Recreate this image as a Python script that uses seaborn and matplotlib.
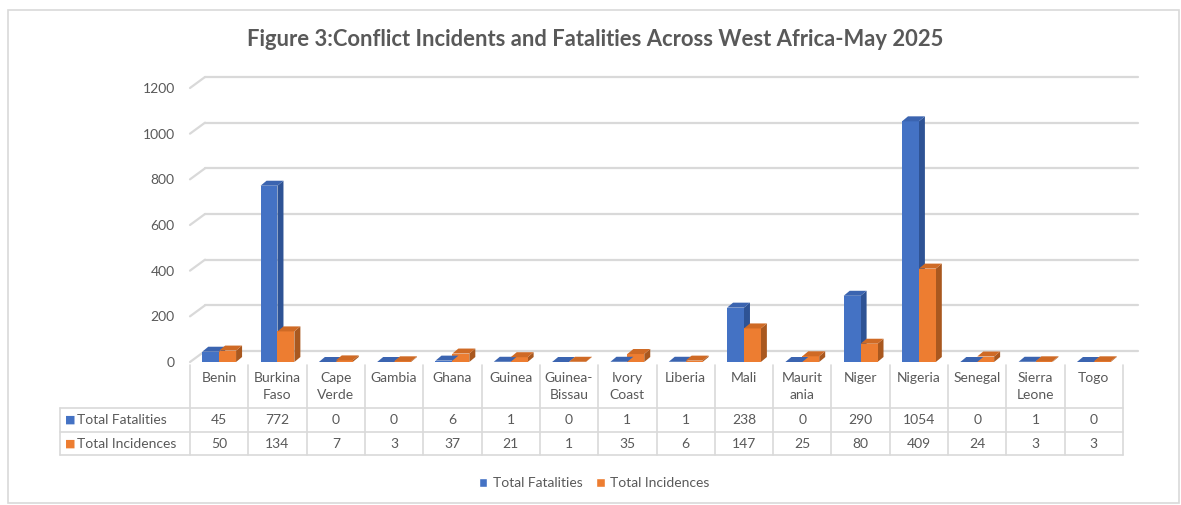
import matplotlib
matplotlib.use("Agg")
import matplotlib.pyplot as plt
import matplotlib.transforms as mtransforms
from matplotlib.patches import Polygon, Rectangle
import pandas as pd
import seaborn as sns

# data
countries = ["Benin", "Burkina Faso", "Cape Verde", "Gambia", "Ghana", "Guinea",
             "Guinea-Bissau", "Ivory Coast", "Liberia", "Mali", "Mauritania",
             "Niger", "Nigeria", "Senegal", "Sierra Leone", "Togo"]
country_labels = ["Benin", "Burkina\nFaso", "Cape\nVerde", "Gambia", "Ghana", "Guinea",
                  "Guinea-\nBissau", "Ivory\nCoast", "Liberia", "Mali", "Maurit\nania",
                  "Niger", "Nigeria", "Senegal", "Sierra\nLeone", "Togo"]
fatalities = [45, 772, 0, 0, 6, 1, 0, 1, 1, 238, 0, 290, 1054, 0, 1, 0]
incidences = [50, 134, 7, 3, 37, 21, 1, 35, 6, 147, 25, 80, 409, 24, 3, 3]
series = ["Total Fatalities", "Total Incidences"]
y_ticks = [0, 200, 400, 600, 800, 1000, 1200]

colors = {"Total Fatalities": "#4472C4", "Total Incidences": "#ED7D31"}
side_colors = {"Total Fatalities": "#2E5395", "Total Incidences": "#A9581F"}
top_colors = {"Total Fatalities": "#3B64B0", "Total Incidences": "#CF6A25"}
text_col = "#595959"
grid_col = "#D9D9D9"

df = pd.DataFrame({
    "country": countries * 2,
    "value": fatalities + incidences,
    "series": [series[0]] * len(countries) + [series[1]] * len(countries),
})

sns.set_style("white")
plt.rcParams["font.family"] = ["Lato", "DejaVu Sans"]

W, H = 1181, 505
fig = plt.figure(figsize=(W / 100, H / 100), dpi=100)
ax = fig.add_axes([190 / W, 1 - 362 / H, 933 / W, 274 / H])

sns.barplot(data=df, x="country", y="value", hue="series", order=countries,
            hue_order=series, palette=colors, saturation=1, width=0.58, errorbar=None,
            linewidth=0, ax=ax, zorder=3)
ax.get_legend().remove()
ax.set_xlim(-0.5, len(countries) - 0.5)
ax.set_ylim(0, 1200)
ax.set_xlabel("")
ax.set_ylabel("")
for s in ax.spines.values():
    s.set_visible(False)
ax.set_xticks([])
ax.set_yticks(y_ticks)
ax.set_yticklabels([str(t) for t in y_ticks], color=text_col, fontsize=10)
ax.tick_params(axis="y", length=0, pad=11)

# back-wall gridlines with the 3D offset (pixels)
off = mtransforms.offset_copy(ax.transData, fig=fig, x=0.15, y=0.11, units="inches")
for t in y_ticks:
    ax.plot([-0.5, len(countries) - 0.5], [t, t], color=grid_col, lw=1.6,
            transform=off, clip_on=False, zorder=1)
    p0 = ax.transData.transform((-0.5, t))
    p1 = off.transform((-0.5, t))
    ax.plot([p0[0], p1[0]], [p0[1], p1[1]], color=grid_col, lw=1.6,
            transform=None, clip_on=False, zorder=1)

# 3D depth faces derived from the drawn bars
bars = [p for p in ax.patches if isinstance(p, Rectangle) and p.get_width() > 0]
depth_x, depth_y = 6, 5  # pixels
for i, bar in enumerate(bars):
    name = series[0] if i < len(countries) else series[1]
    x0, y0 = bar.get_x(), bar.get_y()
    w, h = bar.get_width(), bar.get_height()
    bl = ax.transData.transform((x0, y0))
    tr = ax.transData.transform((x0 + w, y0 + h))
    tl = (bl[0], tr[1])
    br = (tr[0], bl[1])
    side = Polygon([br, tr, (tr[0] + depth_x, tr[1] + depth_y), (br[0] + depth_x, br[1] + depth_y)],
                   closed=True, transform=None, facecolor=side_colors[name], edgecolor="none",
                   zorder=2.9, clip_on=False)
    top = Polygon([tl, tr, (tr[0] + depth_x, tr[1] + depth_y), (tl[0] + depth_x, tl[1] + depth_y)],
                  closed=True, transform=None, facecolor=top_colors[name], edgecolor="none",
                  zorder=3.1, clip_on=False)
    ax.add_patch(side)
    ax.add_patch(top)

# data table under the plot
blend = mtransforms.blended_transform_factory(ax.transData, ax.transAxes)
px = 274.0
def yfrac(ypix):
    return (362 - ypix) / px

left_x = -0.5 - (190 - 60) / (933 / len(countries))
right_x = len(countries) - 0.5
y_head, y_r1, y_r2, y_r3 = yfrac(365), yfrac(408), yfrac(432), yfrac(455)
line_kw = dict(color=grid_col, lw=1.2, transform=blend, clip_on=False, zorder=1)
for yy in (y_r1, y_r2, y_r3):
    ax.plot([left_x, right_x], [yy, yy], **line_kw)
ax.plot([left_x, left_x], [y_r1, y_r3], **line_kw)
for k in range(len(countries) + 1):
    xb = k - 0.5
    ax.plot([xb, xb], [y_head, y_r3], **line_kw)

for k, lab in enumerate(country_labels):
    ax.text(k, yfrac(372), lab, transform=blend, ha="center", va="top",
            fontsize=10, color=text_col, linespacing=1.5)
    ax.text(k, (y_r1 + y_r2) / 2, str(fatalities[k]), transform=blend, ha="center",
            va="center", fontsize=10, color=text_col)
    ax.text(k, (y_r2 + y_r3) / 2, str(incidences[k]), transform=blend, ha="center",
            va="center", fontsize=10, color=text_col)

for yy, name in (((y_r1 + y_r2) / 2, series[0]), ((y_r2 + y_r3) / 2, series[1])):
    ax.text(left_x + 0.08, yy, "\u25A0", transform=blend, ha="left", va="center",
            fontsize=8, color=colors[name], family=["DejaVu Sans"])
    ax.text(left_x + 0.3, yy, name, transform=blend, ha="left", va="center",
            fontsize=10, color=text_col)

# legend
handles = [Rectangle((0, 0), 1, 1, facecolor=colors[s]) for s in series]
fig.legend(handles, series, loc="center", bbox_to_anchor=(0.503, 1 - 483 / H), ncol=2,
           frameon=False, handlelength=0.6, handleheight=0.6, handletextpad=0.4,
           columnspacing=1.0, fontsize=10, labelcolor=text_col)

fig.text(0.504, 1 - 40 / H, "Figure 3:Conflict Incidents and Fatalities Across West Africa-May 2025",
         ha="center", va="center", fontsize=15.8, fontweight="bold", color="#595959")

# outer chart frame
fig.patches.append(Rectangle((8 / W, 1 - 503 / H), (1179 - 8) / W, (503 - 10) / H,
                             transform=fig.transFigure, fill=False, edgecolor=grid_col, lw=1.2))

fig.savefig("out.png", dpi=100, facecolor="white")
